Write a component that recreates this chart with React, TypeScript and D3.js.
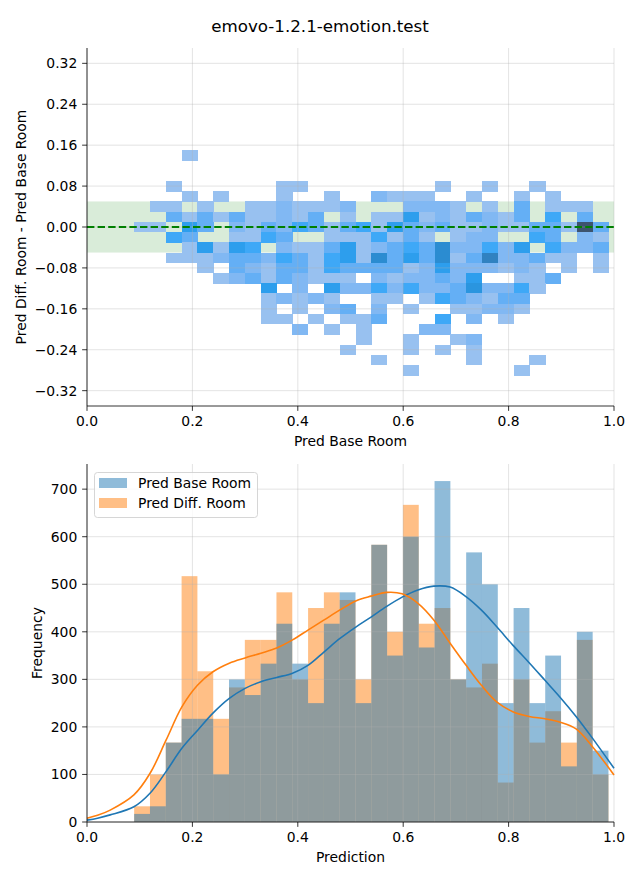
import React from "react";
import * as d3 from "d3";

const W = 640;
const H = 880;
const FONT = "DejaVu Sans, Liberation Sans, sans-serif";

// ---------- data ----------
const title = "emovo-1.2.1-emotion.test";
const binLefts = [
  0.0895, 0.1195, 0.1495, 0.1795, 0.2095, 0.2395, 0.2695, 0.2995, 0.3295, 0.3595,
  0.3895, 0.4195, 0.4495, 0.4795, 0.5095, 0.5395, 0.5695, 0.5995, 0.6295, 0.6595,
  0.6895, 0.7195, 0.7495, 0.7795, 0.8095, 0.8395, 0.8695, 0.8995, 0.9295, 0.9595,
];
const binWidth = 0.03;
const heatYCenters = [
  0.14, 0.12, 0.1, 0.08, 0.06, 0.04, 0.02, 0.0, -0.02, -0.04, -0.06,
  -0.08, -0.1, -0.12, -0.14, -0.16, -0.18, -0.2, -0.22, -0.24, -0.26, -0.28,
];
const heatBinHeight = 0.02;
const heatCounts = [
  [0,0,0,1,0,0,0,0,0,0, 0,0,0,0,0,0,0,0,0,0, 0,0,0,0,0,0,0,0,0,0],
  [0,0,0,0,0,0,0,0,0,0, 0,0,0,0,0,0,0,0,0,0, 0,0,0,0,0,0,0,0,0,0],
  [0,0,0,0,0,0,0,0,0,0, 0,0,0,0,0,0,0,0,0,0, 0,0,0,0,0,0,0,0,0,0],
  [0,0,1,0,0,0,0,0,0,1, 1,0,0,0,0,0,0,0,0,1, 0,0,1,0,0,1,0,0,0,0],
  [0,0,0,1,0,1,0,0,0,1, 0,0,1,0,0,2,1,1,1,0, 0,1,0,0,1,0,1,0,0,0],
  [0,1,1,0,1,0,0,1,1,2, 1,1,1,2,0,0,0,2,2,2, 1,0,1,0,3,0,1,1,1,0],
  [0,0,3,1,3,1,3,1,1,2, 1,3,0,1,0,1,1,5,1,2, 1,3,2,1,3,0,4,0,3,0],
  [1,1,0,5,3,0,2,1,3,2, 4,3,1,3,4,1,5,3,2,3, 1,1,2,1,1,3,3,1,13,3],
  [0,0,4,3,0,0,1,1,4,3, 0,0,1,1,1,4,1,3,1,0, 1,2,2,0,0,4,3,0,2,1],
  [0,0,0,1,5,1,5,4,0,2, 1,1,3,5,1,2,3,4,3,7, 2,2,4,2,5,0,4,2,2,3],
  [0,0,1,1,1,2,3,3,2,4, 3,1,4,5,1,7,3,5,3,7, 1,3,8,2,2,3,1,1,0,1],
  [0,0,0,0,1,0,3,2,1,3, 3,1,4,3,3,3,3,1,2,5, 2,2,2,1,2,1,0,1,0,1],
  [0,0,0,0,0,1,2,3,1,3, 2,1,1,1,0,2,1,2,2,3, 2,5,0,0,1,1,3,0,0,0],
  [0,0,0,0,0,0,0,0,5,0, 2,0,5,2,2,4,2,4,2,2, 3,6,2,2,4,1,0,0,0,0],
  [0,0,0,0,0,0,0,0,1,2, 1,2,1,0,0,1,1,0,1,4, 3,2,1,3,3,0,0,0,0,0],
  [0,0,0,0,0,0,0,0,1,0, 1,0,2,3,0,2,0,1,0,0, 1,1,2,2,1,0,0,0,0,0],
  [0,0,0,0,0,0,0,0,1,1, 0,1,0,1,1,3,0,0,0,4, 0,2,0,1,0,0,0,0,0,0],
  [0,0,0,0,0,0,0,0,0,0, 2,0,1,0,1,0,0,0,2,2, 0,0,0,0,0,0,0,0,0,0],
  [0,0,0,0,0,0,0,0,0,0, 0,0,0,0,1,0,0,1,0,0, 1,2,0,0,0,0,0,0,0,0],
  [0,0,0,0,0,0,0,0,0,0, 0,0,0,1,0,0,0,1,0,1, 0,1,0,0,0,0,0,0,0,0],
  [0,0,0,0,0,0,0,0,0,0, 0,0,0,0,0,1,0,0,0,0, 0,1,0,0,0,1,0,0,0,0],
  [0,0,0,0,0,0,0,0,0,0, 0,0,0,0,0,0,0,1,0,0, 0,0,0,0,1,0,0,0,0,0],
];
const bandHalfWidth = 0.05;
const topYTicks = [0.32, 0.24, 0.16, 0.08, 0.0, -0.08, -0.16, -0.24, -0.32];
const xTicks = [0, 0.2, 0.4, 0.6, 0.8, 1.0];

const baseCounts = [17, 33, 167, 217, 217, 100, 300, 267, 333, 417, 333, 250, 417, 483, 250, 583, 350, 600, 367, 717, 300, 567, 500, 250, 450, 250, 350, 117, 400, 150];
const diffCounts = [33, 100, 167, 517, 317, 217, 283, 383, 383, 483, 300, 450, 483, 467, 300, 583, 400, 667, 417, 450, 300, 283, 333, 83, 300, 167, 233, 167, 383, 100];
const bottomYTicks = [0, 100, 200, 300, 400, 500, 600, 700];

const baseKde: [number, number][] = [
  [0, 4], [0.02, 8], [0.044, 15], [0.089, 32], [0.12, 61], [0.15, 106], [0.18, 155],
  [0.21, 193], [0.239, 229], [0.27, 260], [0.3, 281], [0.33, 295], [0.36, 304],
  [0.39, 313], [0.42, 330], [0.45, 358], [0.48, 386], [0.51, 410], [0.539, 431],
  [0.568, 453], [0.598, 473], [0.628, 488], [0.658, 496], [0.689, 494], [0.719, 474],
  [0.748, 446], [0.778, 410], [0.808, 372], [0.839, 335], [0.869, 298], [0.898, 262],
  [0.928, 222], [0.958, 178], [1.0, 113],
];
const diffKde: [number, number][] = [
  [0, 8], [0.02, 14], [0.044, 25], [0.089, 57], [0.12, 103], [0.15, 172], [0.18, 242],
  [0.21, 288], [0.239, 316], [0.27, 334], [0.3, 345], [0.33, 355], [0.36, 366],
  [0.39, 383], [0.42, 404], [0.45, 425], [0.48, 446], [0.51, 465], [0.539, 475],
  [0.569, 483], [0.598, 480], [0.628, 460], [0.658, 425], [0.689, 376], [0.719, 330],
  [0.748, 288], [0.778, 252], [0.808, 232], [0.839, 222], [0.869, 217], [0.898, 210],
  [0.928, 196], [0.958, 160], [1.0, 99],
];

// ---------- HUSL colormap (seaborn style) ----------
const M = [
  [3.240969941904521, -1.537383177570093, -0.498610760293],
  [-0.96924363628087, 1.87596750150772, 0.041555057407175],
  [0.055630079696993, -0.20397695888897, 1.056971514242878],
];
const MINV = [
  [0.41239079926595, 0.35758433938387, 0.18048078840183],
  [0.21263900587151, 0.71516867876775, 0.072192315360733],
  [0.019330818715591, 0.11919477979462, 0.95053215224966],
];
const REF_U = 0.19783000664283;
const REF_V = 0.46831999493879;
const KAPPA = 903.2962962;
const EPS = 0.0088564516;

function getBounds(L: number) {
  const sub1 = Math.pow(L + 16, 3) / 1560896;
  const sub2 = sub1 > EPS ? sub1 : L / KAPPA;
  const res: [number, number][] = [];
  for (let c = 0; c < 3; c++) {
    const [m1, m2, m3] = M[c];
    for (let t = 0; t < 2; t++) {
      const top1 = (284517 * m1 - 94839 * m3) * sub2;
      const top2 = (838422 * m3 + 769860 * m2 + 731718 * m1) * L * sub2 - 769860 * t * L;
      const bottom = (632260 * m3 - 126452 * m2) * sub2 + 126452 * t;
      res.push([top1 / bottom, top2 / bottom]);
    }
  }
  return res;
}
function maxChroma(L: number, Hd: number) {
  const hr = (Hd / 360) * Math.PI * 2;
  let min = Infinity;
  for (const [slope, intercept] of getBounds(L)) {
    const len = intercept / (Math.sin(hr) - slope * Math.cos(hr));
    if (len >= 0) min = Math.min(min, len);
  }
  return min;
}
function huslToRgb(h: number, s: number, l: number) {
  if (l > 99.9999) return [1, 1, 1];
  if (l < 1e-8) return [0, 0, 0];
  const C = (maxChroma(l, h) / 100) * s;
  const hr = (h / 180) * Math.PI;
  const U = Math.cos(hr) * C;
  const V = Math.sin(hr) * C;
  const varU = U / (13 * l) + REF_U;
  const varV = V / (13 * l) + REF_V;
  const Y = l <= 8 ? l / KAPPA : Math.pow((l + 16) / 116, 3);
  const X = -(9 * Y * varU) / ((varU - 4) * varV - varU * varV);
  const Z = (9 * Y - 15 * varV * Y - varV * X) / (3 * varV);
  return M.map((row) => {
    const c = row[0] * X + row[1] * Y + row[2] * Z;
    const v = c <= 0.0031308 ? 12.92 * c : 1.055 * Math.pow(c, 1 / 2.4) - 0.055;
    return Math.max(0, Math.min(1, v));
  });
}
function rgbToHusl(r: number, g: number, b: number) {
  const lin = [r, g, b].map((c) => (c > 0.04045 ? Math.pow((c + 0.055) / 1.055, 2.4) : c / 12.92));
  const [X, Y, Z] = MINV.map((row) => row[0] * lin[0] + row[1] * lin[1] + row[2] * lin[2]);
  const L = Y <= EPS ? Y * KAPPA : 116 * Math.cbrt(Y) - 16;
  const d = X + 15 * Y + 3 * Z;
  const U = 13 * L * ((4 * X) / d - REF_U);
  const V = 13 * L * ((9 * Y) / d - REF_V);
  const C = Math.hypot(U, V);
  let Hd = (Math.atan2(V, U) * 180) / Math.PI;
  if (Hd < 0) Hd += 360;
  return [Hd, (C / maxChroma(L, Hd)) * 100, L];
}
function buildCmap(seed: string) {
  const c = d3.rgb(seed);
  const [h, s] = rgbToHusl(c.r / 255, c.g / 255, c.b / 255);
  const n = Math.floor(1.15 * 256);
  const ramp: string[] = [];
  for (let i = 0; i < 256; i++) {
    const xx = -1 + (2 * i) / (n - 1);
    const l = 35 + (45 * i) / 255;
    const rgb = huslToRgb(h, s * Math.cos(xx), l);
    ramp.push(d3.rgb(rgb[0] * 255, rgb[1] * 255, rgb[2] * 255).formatHex());
  }
  return ramp.reverse();
}
const cmap = buildCmap("#1f77b4");

// ---------- layout ----------
const L0 = 87;
const R0 = 614;
const T1 = 48, B1 = 406;
const T2 = 464, B2 = 822;
const FS = 13.9;
const TICK = 4.86;

const xScale = d3.scaleLinear().domain([0, 1]).range([L0, R0]);
const yTop = d3.scaleLinear().domain([-0.35, 0.35]).range([B1, T1]);
const yBot = d3.scaleLinear().domain([0, 752.9]).range([B2, T2]);
const fmt2 = d3.format(".2f");
const fmt1 = d3.format(".1f");

const C0 = "#1f77b4";
const C1 = "#ff7f0e";
const GRID = "#b0b0b0";

export default function App() {
  const vmax = d3.max(heatCounts.flat()) as number;
  const colorOf = (v: number) => cmap[Math.min(255, Math.floor((v / vmax) * 256))];
  const line = (pts: [number, number][]) =>
    d3
      .line<[number, number]>()
      .x((d) => xScale(d[0]))
      .y((d) => yBot(d[1]))
      .curve(d3.curveCatmullRom.alpha(0.5))(pts) as string;

  const cells: JSX.Element[] = [];
  heatCounts.forEach((row, ri) => {
    row.forEach((v, ci) => {
      if (v <= 0) return;
      const x0 = xScale(binLefts[ci]);
      const x1 = xScale(binLefts[ci] + binWidth);
      const y0 = yTop(heatYCenters[ri] + heatBinHeight / 2);
      const y1 = yTop(heatYCenters[ri] - heatBinHeight / 2);
      cells.push(
        <rect key={`c${ri}-${ci}`} x={x0} y={y0} width={x1 - x0 + 0.3} height={y1 - y0 + 0.3} fill={colorOf(v)} />
      );
    });
  });

  const bars = (vals: number[], color: string, key: string) =>
    vals.map((v, i) => {
      const x0 = xScale(binLefts[i]);
      const x1 = xScale(binLefts[i] + binWidth);
      return (
        <rect key={`${key}${i}`} x={x0} y={yBot(v)} width={x1 - x0} height={yBot(0) - yBot(v)} fill={color} fillOpacity={0.5} />
      );
    });

  const gridX = (t: number, b: number, k: string) =>
    xTicks.map((v) => (
      <line key={`${k}${v}`} x1={xScale(v)} x2={xScale(v)} y1={t} y2={b} stroke={GRID} strokeOpacity={0.45} strokeWidth={0.8} />
    ));

  return (
    <svg width={W} height={H} style={{ position: "absolute", left: 0, top: 0, background: "#fff" }} fontFamily={FONT}>
      <rect x={0} y={0} width={W} height={H} fill="#fff" />
      <text x={W / 2} y={32} textAnchor="middle" fontSize={16.7} fill="#000">{title}</text>

      {/* ---------- top panel ---------- */}
      <rect x={xScale(0)} y={yTop(bandHalfWidth)} width={xScale(1) - xScale(0)} height={yTop(-bandHalfWidth) - yTop(bandHalfWidth)} fill="green" fillOpacity={0.15} />
      <g shapeRendering="crispEdges">{cells}</g>
      {gridX(T1, B1, "tgx")}
      {topYTicks.map((v) => (
        <line key={`tgy${v}`} x1={L0} x2={R0} y1={yTop(v)} y2={yTop(v)} stroke={GRID} strokeOpacity={0.45} strokeWidth={0.8} />
      ))}
      <line x1={xScale(0)} x2={xScale(1)} y1={yTop(0)} y2={yTop(0)} stroke="green" strokeWidth={2} strokeDasharray="7.4,3.2" />
      <g stroke="#000" strokeWidth={0.8}>
        <line x1={L0} x2={L0} y1={T1} y2={B1} />
        <line x1={L0} x2={R0} y1={B1} y2={B1} />
        {topYTicks.map((v) => (
          <line key={`tty${v}`} x1={L0 - TICK} x2={L0} y1={yTop(v)} y2={yTop(v)} />
        ))}
        {xTicks.map((v) => (
          <line key={`ttx${v}`} x1={xScale(v)} x2={xScale(v)} y1={B1} y2={B1 + TICK} />
        ))}
      </g>
      <g fontSize={FS} fill="#000">
        {topYTicks.map((v) => (
          <text key={`tly${v}`} x={L0 - 2 * TICK} y={yTop(v) + 0.36 * FS} textAnchor="end">{fmt2(v)}</text>
        ))}
        {xTicks.map((v) => (
          <text key={`tlx${v}`} x={xScale(v)} y={B1 + 2 * TICK + 0.76 * FS} textAnchor="middle">{fmt1(v)}</text>
        ))}
        <text x={(L0 + R0) / 2} y={446} textAnchor="middle">Pred Base Room</text>
        <text transform={`translate(${26},${(T1 + B1) / 2}) rotate(-90)`} textAnchor="middle">Pred Diff. Room - Pred Base Room</text>
      </g>

      {/* ---------- bottom panel ---------- */}
      {bars(diffCounts, C1, "d")}
      {bars(baseCounts, C0, "b")}
      {gridX(T2, B2, "bgx")}
      {bottomYTicks.map((v) => (
        <line key={`bgy${v}`} x1={L0} x2={R0} y1={yBot(v)} y2={yBot(v)} stroke={GRID} strokeOpacity={0.45} strokeWidth={0.8} />
      ))}
      <path d={line(baseKde)} fill="none" stroke={C0} strokeWidth={1.6} />
      <path d={line(diffKde)} fill="none" stroke={C1} strokeWidth={1.6} />
      <g stroke="#000" strokeWidth={0.8}>
        <line x1={L0} x2={L0} y1={T2} y2={B2} />
        <line x1={L0} x2={R0} y1={B2} y2={B2} />
        {bottomYTicks.map((v) => (
          <line key={`bty${v}`} x1={L0 - TICK} x2={L0} y1={yBot(v)} y2={yBot(v)} />
        ))}
        {xTicks.map((v) => (
          <line key={`btx${v}`} x1={xScale(v)} x2={xScale(v)} y1={B2} y2={B2 + TICK} />
        ))}
      </g>
      <g fontSize={FS} fill="#000">
        {bottomYTicks.map((v) => (
          <text key={`bly${v}`} x={L0 - 2 * TICK} y={yBot(v) + 0.36 * FS} textAnchor="end">{String(v)}</text>
        ))}
        {xTicks.map((v) => (
          <text key={`blx${v}`} x={xScale(v)} y={B2 + 2 * TICK + 0.76 * FS} textAnchor="middle">{fmt1(v)}</text>
        ))}
        <text x={(L0 + R0) / 2} y={862} textAnchor="middle">Prediction</text>
        <text transform={`translate(${42},${(T2 + B2) / 2}) rotate(-90)`} textAnchor="middle">Frequency</text>
      </g>

      {/* legend */}
      <rect x={94.5} y={472.5} width={163} height={45} rx={3} fill="#fff" fillOpacity={0.8} stroke="#cccccc" strokeWidth={0.8} />
      <rect x={99} y={478} width={28} height={10} fill={C0} fillOpacity={0.5} />
      <rect x={99} y={498} width={28} height={10} fill={C1} fillOpacity={0.5} />
      <text x={138} y={488} fontSize={FS} fill="#000">Pred Base Room</text>
      <text x={138} y={508} fontSize={FS} fill="#000">Pred Diff. Room</text>
    </svg>
  );
}
